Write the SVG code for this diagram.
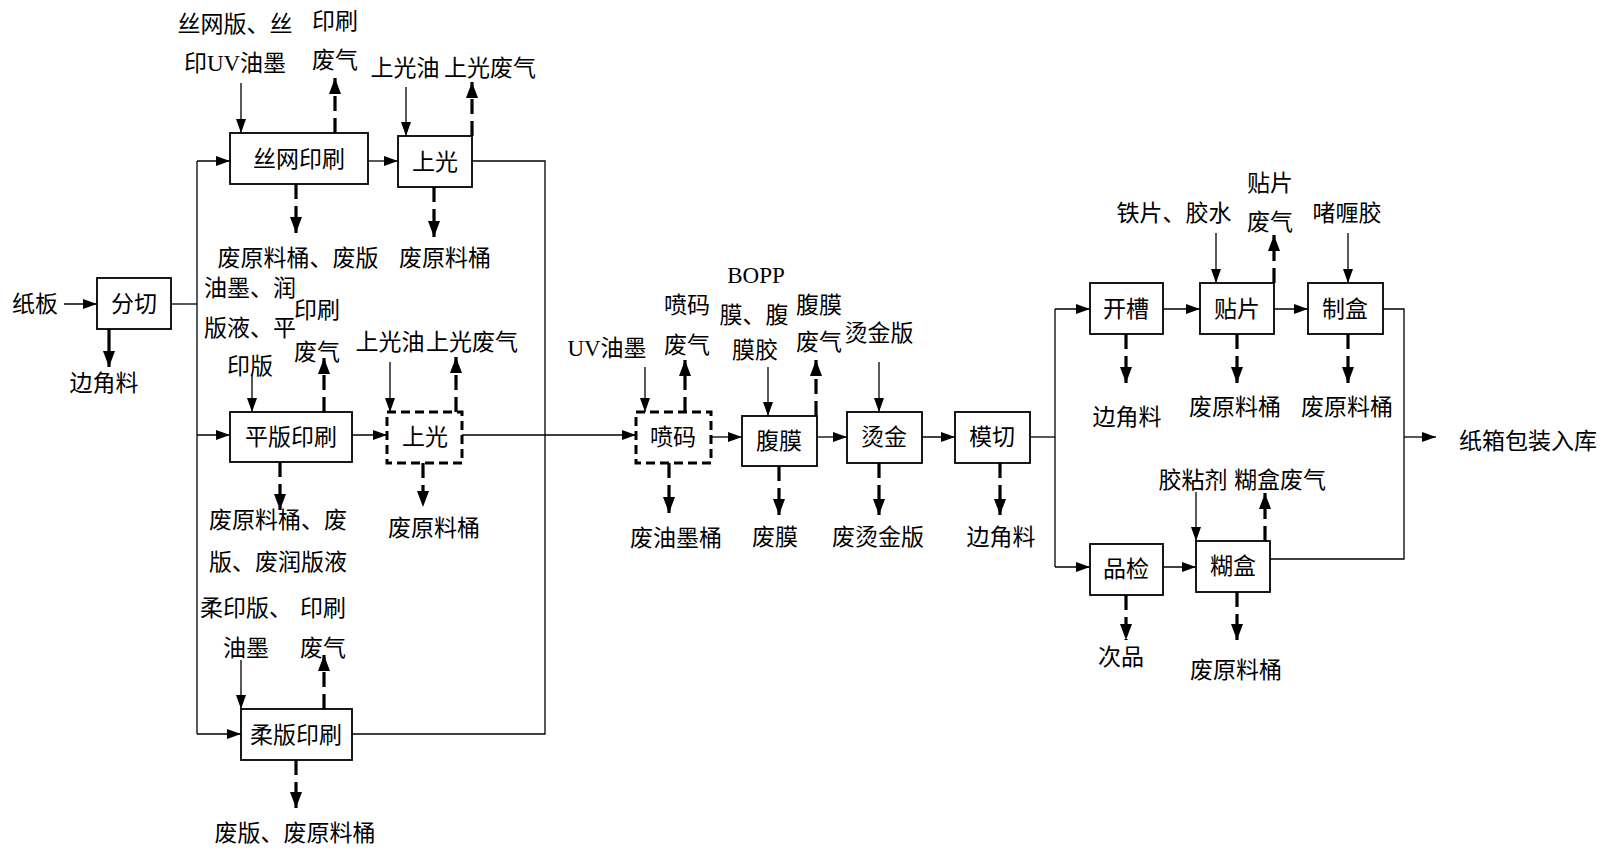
<svg xmlns="http://www.w3.org/2000/svg" width="1609" height="851" viewBox="0 0 1609 851">
<style>
.box{fill:#fff;stroke:#000;stroke-width:1.8}
.dbox{fill:#fff;stroke:#000;stroke-width:3;stroke-dasharray:9 5}
.ln{fill:none;stroke:#000;stroke-width:1.3}
.ar{fill:none;stroke:#000;stroke-width:1.3;marker-end:url(#a)}
.da{fill:none;stroke:#000;stroke-width:3.2;stroke-dasharray:15 7;marker-end:url(#b)}
.sa{fill:none;stroke:#000;stroke-width:3.2;marker-end:url(#b)}
text{font-family:"Liberation Serif","Noto Sans CJK SC",serif;font-size:23px;text-anchor:middle;fill:#000}
.st{text-anchor:start}
</style>
<defs>
<marker id="a" markerUnits="userSpaceOnUse" markerWidth="14" markerHeight="10" refX="14" refY="5" orient="auto"><path d="M0,0 L14,5 L0,10 z" fill="#000"/></marker>
<marker id="b" markerUnits="userSpaceOnUse" markerWidth="16" markerHeight="12" refX="16" refY="6" orient="auto"><path d="M0,0 L16,6 L0,12 z" fill="#000"/></marker>
</defs>
<rect width="1609" height="851" fill="#fff"/>

<g id="connectors">
<path class="ar" d="M64,304 H97"/>
<path class="ln" d="M171,304 H197"/>
<path class="ln" d="M197,161 V734"/>
<path class="ar" d="M197,161 H230"/>
<path class="ar" d="M197,435 H230"/>
<path class="ar" d="M197,734 H241"/>
<path class="ar" d="M368,161 H398"/>
<path class="ar" d="M352,435 H387"/>
<path class="ln" d="M472,161 H545 V734 H352"/>
<path class="ar" d="M462,435 H636"/>
<path class="ar" d="M241,83 V133"/>
<path class="ar" d="M406,87 V136"/>
<path class="ar" d="M252,375 V412"/>
<path class="ar" d="M390,362 V412"/>
<path class="ar" d="M241,660 V709"/>
<path class="ar" d="M645,367 V412"/>
<path class="ar" d="M768,367 V416"/>
<path class="ar" d="M879,362 V412"/>
<path class="ar" d="M1216,233 V283"/>
<path class="ar" d="M1348,233 V283"/>
<path class="ar" d="M1196,492 V541"/>
<path class="ar" d="M711,437 H742"/>
<path class="ar" d="M817,437 H847"/>
<path class="ar" d="M922,437 H955"/>
<path class="ln" d="M1030,437 H1055"/>
<path class="ln" d="M1055,309 V567"/>
<path class="ar" d="M1055,309 H1090"/>
<path class="ar" d="M1055,567 H1090"/>
<path class="ar" d="M1163,309 H1200"/>
<path class="ar" d="M1274,309 H1308"/>
<path class="ar" d="M1163,567 H1196"/>
<path class="ln" d="M1383,309 H1404 V559 H1270"/>
<path class="ar" d="M1404,437 H1436"/>

<path class="sa" d="M109,329 V367"/>
<path class="da" d="M335,133 V78"/>
<path class="da" d="M296,184 V233"/>
<path class="da" d="M472,136 V82"/>
<path class="da" d="M434,187 V237"/>
<path class="da" d="M324,412 V358"/>
<path class="da" d="M280,462 V510"/>
<path class="da" d="M456,412 V357"/>
<path class="da" d="M423,463 V507"/>
<path class="da" d="M324,709 V655"/>
<path class="da" d="M296,760 V808"/>
<path class="da" d="M685,412 V360"/>
<path class="da" d="M669,463 V513"/>
<path class="da" d="M816,416 V360"/>
<path class="da" d="M779,466 V515"/>
<path class="da" d="M879,463 V515"/>
<path class="da" d="M1000,463 V515"/>
<path class="da" d="M1126,334 V383"/>
<path class="da" d="M1274,283 V235"/>
<path class="da" d="M1237,334 V383"/>
<path class="da" d="M1348,334 V383"/>
<path class="da" d="M1126,595 V640"/>
<path class="da" d="M1265,541 V493"/>
<path class="da" d="M1237,592 V640"/>
</g>

<g id="n-fenqie"><rect class="box" x="97" y="278" width="74" height="51"/><text x="134" y="312">分切</text></g>
<g id="n-siwang"><rect class="box" x="230" y="133" width="138" height="51"/><text x="299" y="167">丝网印刷</text></g>
<g id="n-shangguang1"><rect class="box" x="398" y="136" width="74" height="51"/><text x="435" y="170">上光</text></g>
<g id="n-pingban"><rect class="box" x="230" y="412" width="122" height="50"/><text x="291" y="445">平版印刷</text></g>
<g id="n-shangguang2"><rect class="dbox" x="387" y="412" width="75" height="51"/><text x="425" y="445">上光</text></g>
<g id="n-rouban"><rect class="box" x="241" y="709" width="111" height="51"/><text x="296" y="743">柔版印刷</text></g>
<g id="n-penma"><rect class="dbox" x="636" y="412" width="75" height="51"/><text x="673" y="445">喷码</text></g>
<g id="n-fumo"><rect class="box" x="742" y="416" width="75" height="50"/><text x="779" y="449">腹膜</text></g>
<g id="n-tangjin"><rect class="box" x="847" y="412" width="75" height="51"/><text x="884" y="445">烫金</text></g>
<g id="n-moqie"><rect class="box" x="955" y="412" width="75" height="51"/><text x="992" y="445">模切</text></g>
<g id="n-kaicao"><rect class="box" x="1090" y="283" width="73" height="51"/><text x="1126" y="317">开槽</text></g>
<g id="n-tiepian"><rect class="box" x="1200" y="283" width="74" height="51"/><text x="1237" y="317">贴片</text></g>
<g id="n-zhihe"><rect class="box" x="1308" y="283" width="75" height="51"/><text x="1345" y="317">制盒</text></g>
<g id="n-pinjian"><rect class="box" x="1090" y="544" width="73" height="51"/><text x="1126" y="577">品检</text></g>
<g id="n-hu he"><rect class="box" x="1196" y="541" width="74" height="51"/><text x="1233" y="574">糊盒</text></g>

<g id="labels">
<text x="35" y="312">纸板</text>
<text x="104" y="391">边角料</text>
<text x="235" y="32">丝网版、丝</text>
<text x="235" y="71">印UV油墨</text>
<text x="335" y="29">印刷</text>
<text x="335" y="68">废气</text>
<text x="405" y="76">上光油</text>
<text x="490" y="76">上光废气</text>
<text x="298" y="266">废原料桶、废版</text>
<text x="445" y="266">废原料桶</text>
<text class="st" x="204" y="296">油墨、润</text>
<text class="st" x="204" y="336">版液、平</text>
<text x="250" y="374">印版</text>
<text x="317" y="318">印刷</text>
<text x="317" y="360">废气</text>
<text x="390" y="350">上光油</text>
<text x="472" y="350">上光废气</text>
<text x="278" y="528">废原料桶、废</text>
<text x="278" y="570">版、废润版液</text>
<text x="434" y="536">废原料桶</text>
<text class="st" x="200" y="616">柔印版、</text>
<text x="323" y="616">印刷</text>
<text x="246" y="656">油墨</text>
<text x="323" y="656">废气</text>
<text x="295" y="841">废版、废原料桶</text>
<text x="607" y="356">UV油墨</text>
<text x="687" y="313">喷码</text>
<text x="687" y="353">废气</text>
<text x="756" y="283">BOPP</text>
<text x="754" y="323">膜、腹</text>
<text x="755" y="358">膜胶</text>
<text x="819" y="313">腹膜</text>
<text x="819" y="350">废气</text>
<text x="879" y="341">烫金版</text>
<text x="676" y="546">废油墨桶</text>
<text x="775" y="545">废膜</text>
<text x="878" y="545">废烫金版</text>
<text x="1001" y="545">边角料</text>
<text x="1174" y="221">铁片、胶水</text>
<text x="1270" y="191">贴片</text>
<text x="1270" y="230">废气</text>
<text x="1347" y="221">啫喱胶</text>
<text x="1127" y="425">边角料</text>
<text x="1235" y="415">废原料桶</text>
<text x="1347" y="415">废原料桶</text>
<text class="st" x="1459" y="449">纸箱包装入库</text>
<text x="1193" y="488">胶粘剂</text>
<text x="1280" y="488">糊盒废气</text>
<text x="1121" y="665">次品</text>
<text x="1236" y="678">废原料桶</text>
</g>
</svg>
